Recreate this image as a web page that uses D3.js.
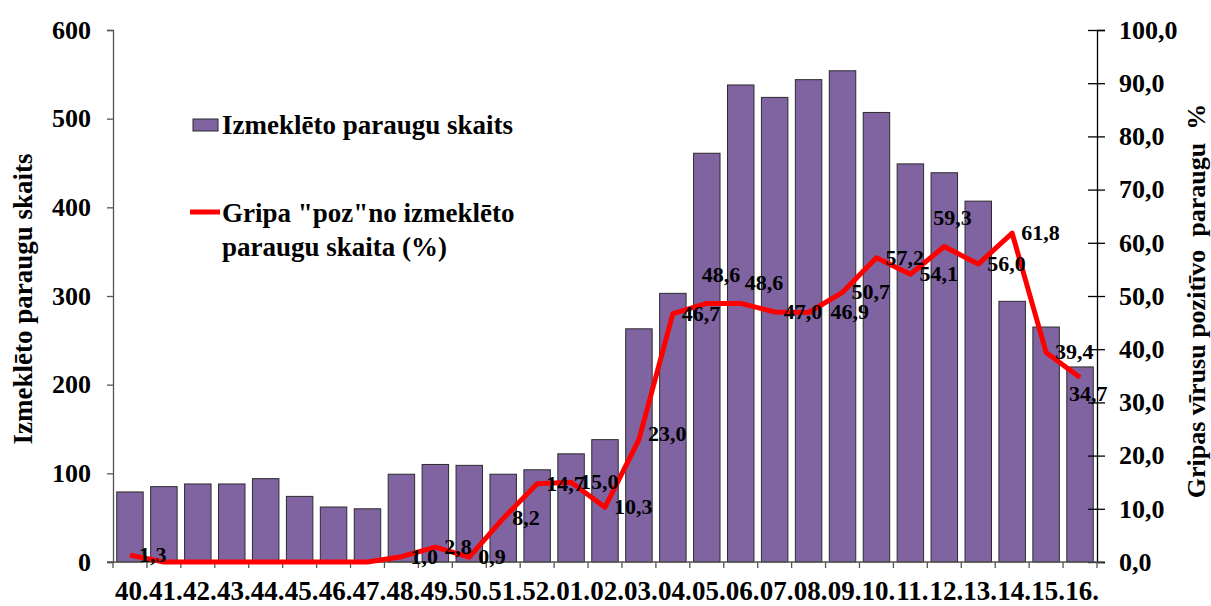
<!DOCTYPE html>
<html>
<head>
<meta charset="utf-8">
<script src="https://cdn.jsdelivr.net/npm/d3@7"></script>
<style>
  body { margin: 0; background: #fff; }
  text { font-family: "Liberation Serif", "Times New Roman", serif; font-weight: bold; fill: #000; }
</style>
</head>
<body>
<svg id="chart" width="1211" height="606"></svg>
<script>
// weeks (40. .. 16.)
var weeks = ["40","41","42","43","44","45","46","47","48","49","50","51","52",
             "01","02","03","04","05","06","07","08","09","10","11","12","13","14","15","16"];
// izmekleto paraugu skaits (bars, left axis)
var samples = [79, 85, 88, 88, 94, 74, 62, 60, 99, 110, 109, 99, 104,
               122, 138, 263, 303, 461, 538, 524, 544, 554, 507, 449, 439, 407, 294, 265, 220];
// gripa poz % (line, right axis)
var positive = [1.3, 0, 0, 0, 0, 0, 0, 0, 1.0, 2.8, 0.9, 8.2, 14.7,
                15.0, 10.3, 23.0, 46.7, 48.6, 48.6, 47.0, 46.9, 50.7, 57.2, 54.1, 59.3, 56.0, 61.8, 39.4, 34.7];
var leftTicks = [0, 100, 200, 300, 400, 500, 600];
var rightTicks = [0, 10, 20, 30, 40, 50, 60, 70, 80, 90, 100];

var svg = d3.select("#chart");
var pLeft = 113, pRight = 1097, pTop = 30, pBottom = 562;

var x = d3.scaleBand().domain(weeks).range([pLeft, pRight]).paddingInner(0.22).paddingOuter(0.11);
var yL = d3.scaleLinear().domain([0, 600]).range([pBottom, pTop]);
var yR = d3.scaleLinear().domain([0, 100]).range([pBottom, pTop]);

// bars
svg.append("g").selectAll("rect")
  .data(samples)
  .enter()
  .append("rect")
  .attr("x", function(d, i){ return x(weeks[i]); })
  .attr("y", function(d){ return yL(d); })
  .attr("width", x.bandwidth())
  .attr("height", function(d){ return pBottom - yL(d); })
  .attr("fill", "#8064a2")
  .attr("stroke", "#2b2b2b")
  .attr("stroke-width", 1);

// left axis
var gL = svg.append("g").attr("transform", "translate(" + pLeft + ",0)")
  .call(d3.axisLeft(yL).tickValues(leftTicks).tickSize(6).tickPadding(16).tickFormat(d3.format("d")));
gL.select(".domain").attr("stroke", "#555").attr("stroke-width", 1.3);
gL.selectAll(".tick line").attr("stroke", "#555").attr("stroke-width", 1.3);
gL.selectAll("text").style("font-size", "26px").style("font-family", "Liberation Serif").style("font-weight", "bold");

// right axis (ticks cross the line)
var gR = svg.append("g").attr("transform", "translate(" + pRight + ",0)")
  .call(d3.axisRight(yR).tickValues(rightTicks).tickSize(8).tickPadding(14)
    .tickFormat(function(d){ return d.toFixed(1).replace(".", ","); }));
gR.select(".domain").attr("stroke", "#000").attr("stroke-width", 1.3);
gR.selectAll(".tick line").attr("x1", -9).attr("stroke", "#000").attr("stroke-width", 1.3);
gR.selectAll("text").style("font-size", "26px").style("font-family", "Liberation Serif").style("font-weight", "bold");

// x axis
var gX = svg.append("g").attr("transform", "translate(0," + pBottom + ")");
gX.append("line").attr("x1", pLeft - 6).attr("x2", pRight + 6).attr("stroke", "#555").attr("stroke-width", 1.3);
gX.selectAll(".xt").data(weeks.concat(["end"])).enter().append("line")
  .attr("x1", function(d, i){ return pLeft + i * x.step() * (weeks.length / (weeks.length)) + 0; })
  .attr("x2", function(d, i){ return pLeft + i * x.step(); })
  .attr("y1", 0).attr("y2", 6).attr("stroke", "#555").attr("stroke-width", 1.3);
gX.selectAll(".xl").data(weeks).enter().append("text")
  .attr("x", function(d){ return x(d) + x.bandwidth() / 2 + 2; })
  .attr("y", 38)
  .attr("text-anchor", "middle")
  .style("font-size", "27px")
  .text(function(d){ return d + "."; });

// line
var line = d3.line()
  .x(function(d, i){ return x(weeks[i]) + x.bandwidth() / 2; })
  .y(function(d){ return yR(d); });
svg.append("path")
  .datum(positive)
  .attr("d", line)
  .attr("fill", "none")
  .attr("stroke", "#ff0000")
  .attr("stroke-width", 5)
  .attr("stroke-linejoin", "round");

// data labels (zero weeks are left unlabeled)
var labelShift = { "05": [-14, -28], "06": [-5, -20], "08": [13, 0], "12": [-20, -29], "16": [-20, 17], "03": [0, -6] };
svg.append("g").selectAll("text")
  .data(positive.map(function(v, i){ return { w: weeks[i], v: v }; }).filter(function(d){ return d.v > 0; }))
  .enter()
  .append("text")
  .attr("x", function(d){
    return x(d.w) + x.bandwidth() / 2 + 9 + (labelShift[d.w] ? labelShift[d.w][0] : 0);
  })
  .attr("y", function(d){
    return yR(d.v) + 7 + (labelShift[d.w] ? labelShift[d.w][1] : 0);
  })
  .style("font-size", "22px")
  .text(function(d){ return d.v.toFixed(1).replace(".", ","); });

// axis titles
svg.append("text")
  .attr("transform", "translate(32,299) rotate(-90)")
  .attr("text-anchor", "middle")
  .style("font-size", "27px")
  .text("Izmeklēto paraugu skaits");
svg.append("text")
  .attr("transform", "translate(1205,301) rotate(-90)")
  .attr("text-anchor", "middle")
  .style("font-size", "26px")
  .style("white-space", "pre")
  .text("Gripas vīrusu pozitīvo  paraugu  %");

// legend
var lg = svg.append("g");
lg.append("rect").attr("x", 193).attr("y", 119).attr("width", 25).attr("height", 12)
  .attr("fill", "#8064a2").attr("stroke", "#2b2b2b").attr("stroke-width", 1);
lg.append("text").attr("x", 222).attr("y", 134).style("font-size", "27px").text("Izmeklēto paraugu skaits");
lg.append("line").attr("x1", 190).attr("x2", 220).attr("y1", 212).attr("y2", 212)
  .attr("stroke", "#ff0000").attr("stroke-width", 5);
lg.append("text").attr("x", 222).attr("y", 222).style("font-size", "27px").text("Gripa \"poz\"no izmeklēto");
lg.append("text").attr("x", 222).attr("y", 256).style("font-size", "27px").text("paraugu skaita (%)");
</script>
</body>
</html>
